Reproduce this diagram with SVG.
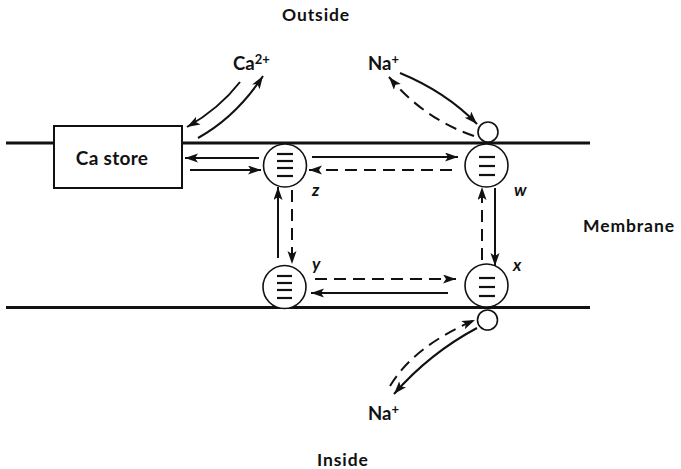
<svg xmlns="http://www.w3.org/2000/svg" width="681" height="469" viewBox="0 0 681 469">
<style>
.t{font-family:"Lato","Liberation Sans",sans-serif;font-weight:bold;fill:#111}
.lbl{font-family:"Lato","Liberation Sans",sans-serif;font-weight:bold;font-style:italic;font-size:17px;fill:#111}
.mem{stroke:#111;stroke-width:3;fill:none}
.c{stroke:#111;stroke-width:1.6;fill:#fff}
.bar{stroke:#111;stroke-width:2.2}
.s{stroke:#111;stroke-width:2;fill:none;marker-end:url(#ah)}
.d{stroke:#111;stroke-width:2;fill:none;stroke-dasharray:12 7;marker-end:url(#ah)}
</style>
<defs>
<marker id="ah" markerUnits="userSpaceOnUse" markerWidth="16" markerHeight="10" refX="13" refY="4.5" orient="auto">
<path d="M0,0 L13,4.5 L0,9 L3,4.5 Z" fill="#111"/>
</marker>
</defs>
<rect width="681" height="469" fill="#fff"/>
<g id="membrane">
<line class="mem" x1="6" y1="143" x2="54" y2="143"/>
<line class="mem" x1="183" y1="143" x2="590" y2="143"/>
<line class="mem" x1="6" y1="307.5" x2="590" y2="307.5"/>
</g>
<g id="ca-store">
<rect x="54" y="126" width="128" height="62" fill="#fff" stroke="#111" stroke-width="2"/>
<text class="t" x="112" y="165" font-size="19" letter-spacing="0.3" text-anchor="middle">Ca store</text>
</g>
<g id="node-z">
<circle class="c" cx="285" cy="165.5" r="21.5"/>
<line class="bar" x1="277" y1="154" x2="293" y2="154"/>
<line class="bar" x1="277" y1="161" x2="293" y2="161"/>
<line class="bar" x1="277" y1="168" x2="293" y2="168"/>
<line class="bar" x1="277" y1="176" x2="293" y2="176"/>
<text class="lbl" x="312" y="196">z</text>
</g>
<g id="node-w">
<circle class="c" cx="486.5" cy="165.5" r="21.5"/>
<line class="bar" x1="479" y1="157" x2="495" y2="157"/>
<line class="bar" x1="479" y1="166" x2="495" y2="166"/>
<line class="bar" x1="479" y1="175" x2="495" y2="175"/>
<text class="lbl" x="514" y="196">w</text>
</g>
<g id="node-y">
<circle class="c" cx="284.5" cy="287" r="21.5"/>
<line class="bar" x1="277" y1="276" x2="292" y2="276"/>
<line class="bar" x1="277" y1="283" x2="292" y2="283"/>
<line class="bar" x1="277" y1="290" x2="292" y2="290"/>
<line class="bar" x1="277" y1="298" x2="292" y2="298"/>
<text class="lbl" x="312" y="270">y</text>
</g>
<g id="node-x">
<circle class="c" cx="486.5" cy="285.5" r="21.5"/>
<line class="bar" x1="479" y1="278" x2="495" y2="278"/>
<line class="bar" x1="479" y1="287" x2="495" y2="287"/>
<line class="bar" x1="479" y1="296" x2="495" y2="296"/>
<text class="lbl" x="513" y="271">x</text>
</g>
<g id="carrier-top">
<circle class="c" cx="488" cy="132" r="10"/>
</g>
<g id="carrier-bottom">
<circle class="c" cx="487.5" cy="320" r="10"/>
</g>
<g id="labels">
<text class="t" x="282" y="21" font-size="17.5" letter-spacing="0.9">Outside</text>
<text class="t" x="583" y="232" font-size="17.5" letter-spacing="0.9">Membrane</text>
<text class="t" x="317" y="466" font-size="17.5" letter-spacing="0.9">Inside</text>
<text class="t" x="233" y="70" font-size="18.5">Ca<tspan font-size="13" dy="-6">2+</tspan></text>
<text class="t" x="368" y="70" font-size="18.5">Na<tspan font-size="13" dy="-6">+</tspan></text>
<text class="t" x="368" y="420" font-size="18.5">Na<tspan font-size="13" dy="-6">+</tspan></text>
</g>
<g id="connectors">
<path class="s" d="M240,82 Q219,109 187,127"/>
<path class="s" d="M198,138 Q236,117 263,76"/>
<path class="s" d="M400,73 Q446,92 477,124"/>
<path class="d" d="M474,136 Q424,119 389,77"/>
<path class="d" d="M390,386 Q414,346 475,320"/>
<path class="s" d="M477,328 Q430,353 394,394"/>
<line class="s" x1="259" y1="158" x2="185" y2="158"/>
<line class="s" x1="190" y1="170" x2="261" y2="170"/>
<line class="s" x1="312" y1="157" x2="458" y2="157"/>
<line class="d" x1="452" y1="170" x2="309" y2="170"/>
<line class="s" x1="278" y1="258" x2="278" y2="187"/>
<line class="d" x1="292" y1="190" x2="292" y2="264"/>
<line class="d" x1="482" y1="260" x2="482" y2="187"/>
<line class="s" x1="495" y1="188" x2="495" y2="266"/>
<line class="d" x1="315" y1="279" x2="456" y2="279"/>
<line class="s" x1="448" y1="293" x2="311" y2="293"/>
</g>
</svg>
